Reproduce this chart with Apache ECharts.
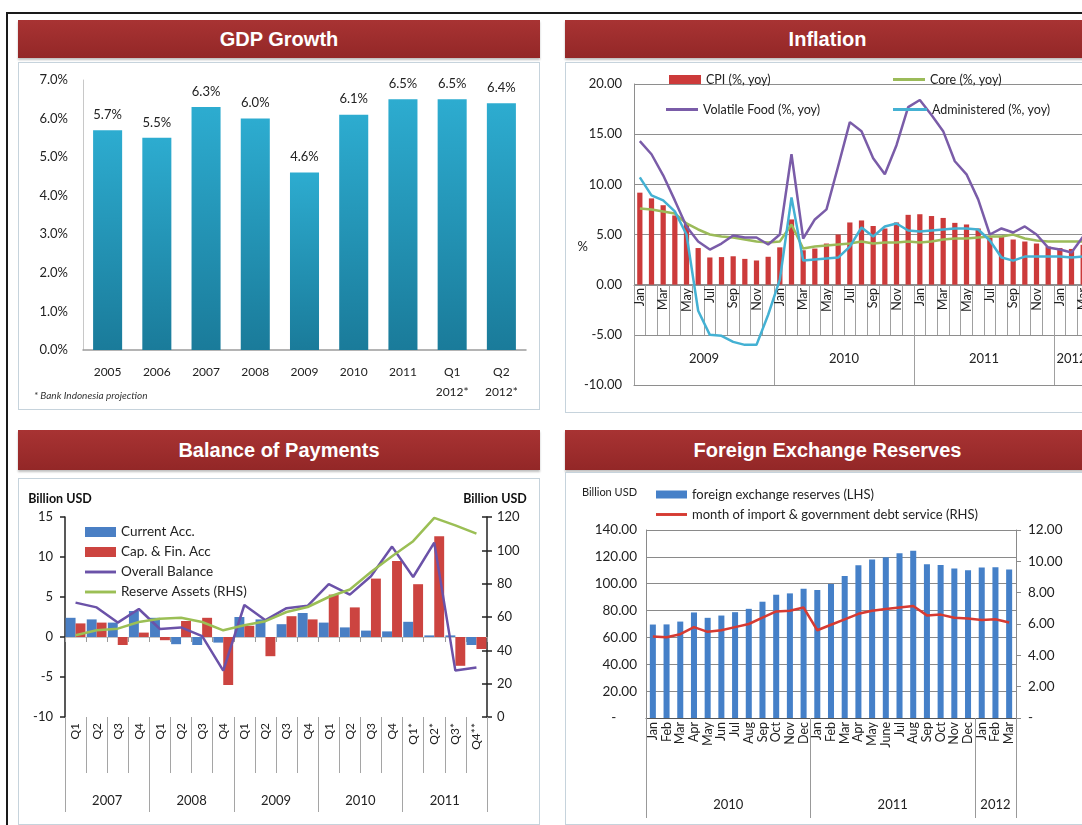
<!DOCTYPE html>
<html>
<head>
<meta charset="utf-8">
<title>Indonesia - Macro Indicators</title>
<script src="https://cdn.jsdelivr.net/npm/echarts@6.0.0/dist/echarts.min.js"></script>
<style>
    html, body { margin: 0; padding: 0; background: #fff; }
    body { width: 1082px; height: 825px; overflow: hidden; position: relative; font-family: "Liberation Sans", Arial, sans-serif; }
    .frame-top { position: absolute; left: 6px; top: 12px; width: 1100px; height: 2px; background: #1a1a1a; }
    .frame-left { position: absolute; left: 6px; top: 12px; width: 2px; height: 820px; background: #1a1a1a; }
    .head { position: absolute; color: #fff; font-weight: bold; font-size: 20px; text-align: center;
            background: linear-gradient(#a83333, #932727); box-shadow: 0 2px 2px rgba(0,0,0,.25); }
    .chart { position: absolute; border: 1px solid #c6d3dc; background: #fff; }
</style>
</head>
<body>
<div class="frame-top"></div>
<div class="frame-left"></div>

<div class="head" style="left:18px;top:20px;width:522px;height:38px;line-height:38px;">GDP Growth</div>
<div class="head" style="left:565px;top:20px;width:525px;height:38px;line-height:38px;">Inflation</div>
<div class="head" style="left:18px;top:430px;width:522px;height:40px;line-height:40px;">Balance of Payments</div>
<div class="head" style="left:565px;top:430px;width:525px;height:40px;line-height:40px;">Foreign Exchange Reserves</div>

<div id="echart1" class="chart" style="left:18px;top:62px;width:520px;height:346px;"></div>
<div id="echart2" class="chart" style="left:565px;top:62px;width:533px;height:349px;"></div>
<div id="echart3" class="chart" style="left:18px;top:478px;width:520px;height:345px;"></div>
<div id="echart4" class="chart" style="left:565px;top:472px;width:523px;height:351px;"></div>

<script>
// ---------- GDP growth (yearly, % yoy) ----------
var gdpCategories = ['2005', '2006', '2007', '2008', '2009', '2010', '2011', 'Q1\n2012*', 'Q2\n2012*'];
var gdpGrowth = [5.7, 5.5, 6.3, 6.0, 4.6, 6.1, 6.5, 6.5, 6.4];

// ---------- Inflation (monthly, Jan 2009 - Mar 2012) ----------
var monthAbbr = ['Jan', 'Feb', 'Mar', 'Apr', 'May', 'Jun', 'Jul', 'Aug', 'Sep', 'Oct', 'Nov', 'Dec'];
var inflYears = ['2009', '2010', '2011', '2012'];
var inflYearMonths = [12, 12, 12, 3];
var cpi = [9.17, 8.60, 7.92, 6.9, 6.04, 3.65, 2.71, 2.75, 2.83, 2.57, 2.41, 2.78,
           3.72, 6.5, 3.43, 3.6, 4.1, 5.0, 6.2, 6.4, 5.85, 5.6, 6.2, 6.96,
           7.02, 6.84, 6.65, 6.16, 6.0, 5.6, 4.7, 4.8, 4.5, 4.3, 4.1, 3.8,
           3.65, 3.56, 3.97];
var core = [7.6, 7.5, 7.3, 7.1, 6.1, 5.5, 5.0, 4.8, 4.7, 4.5, 4.3, 4.2,
            4.3, 6.0, 3.6, 3.8, 3.9, 4.0, 4.1, 4.3, 4.1, 4.2, 4.2, 4.3,
            4.2, 4.3, 4.5, 4.6, 4.6, 4.7, 4.8, 4.8, 5.0, 4.6, 4.4, 4.3,
            4.3, 4.3, 4.3];
var volatileFood = [14.3, 13.0, 10.9, 8.4, 5.8, 4.3, 3.5, 4.1, 4.9, 4.7, 4.7, 4.0,
                    5.0, 13.0, 4.6, 6.5, 7.5, 11.8, 16.2, 15.3, 12.6, 11.0, 13.9, 17.7,
                    18.4, 16.9, 15.3, 12.3, 11.0, 8.5, 5.0, 5.6, 5.2, 5.8, 5.0, 3.7,
                    3.5, 3.2, 4.8];
var administered = [10.7, 8.9, 8.4, 7.3, 5.0, -2.6, -5.0, -5.1, -5.7, -6.0, -6.0, -3.0,
                    0.5, 8.7, 2.4, 2.5, 2.6, 2.7, 3.8, 5.7, 4.8, 5.8, 6.1, 5.4,
                    5.3, 5.4, 5.5, 5.6, 5.6, 5.5, 4.4, 2.7, 2.4, 2.8, 2.8, 2.8,
                    2.8, 2.7, 2.8];

// ---------- Balance of payments (quarterly, billion USD) ----------
var bopQuarters = ['Q1', 'Q2', 'Q3', 'Q4', 'Q1', 'Q2', 'Q3', 'Q4', 'Q1', 'Q2', 'Q3', 'Q4',
                   'Q1', 'Q2', 'Q3', 'Q4', 'Q1*', 'Q2*', 'Q3*', 'Q4**'];
var bopYears = ['2007', '2008', '2009', '2010', '2011'];
var bopYearQuarters = [4, 4, 4, 4, 4];
var currentAcc = [2.4, 2.2, 1.8, 3.25, 2.4, -0.9, -1.0, -0.7, 2.5, 2.2, 1.6, 3.0,
                  1.8, 1.2, 0.8, 0.7, 1.9, 0.2, 0.2, -1.0];
var capFinAcc = [1.7, 1.8, -1.0, 0.55, -0.4, 2.0, 2.4, -6.0, 1.4, -2.4, 2.6, 2.2,
                 5.3, 3.7, 7.3, 9.5, 6.6, 12.6, -3.6, -1.5];
var overallBalance = [4.3, 3.7, 1.8, 3.5, 1.0, 1.2, 0.1, -4.2, 4.0, 2.1, 3.6, 3.9,
                      6.6, 5.3, 7.6, 11.3, 7.5, 11.8, -4.2, -3.8];
var reserveAssets = [49, 52, 53, 57, 59, 59.5, 57, 52, 55, 57.5, 63, 66,
                     72, 76.5, 87, 96.5, 105.5, 119.5, 115, 110];

// ---------- Foreign exchange reserves (monthly, Jan 2010 - Mar 2012) ----------
var fxMonths = ['Jan', 'Feb', 'Mar', 'Apr', 'May', 'Jun', 'Jul', 'Aug', 'Sep', 'Oct', 'Nov', 'Dec',
                'Jan', 'Feb', 'Mar', 'Apr', 'May', 'June', 'Jul', 'Aug', 'Sep', 'Oct', 'Nov', 'Dec',
                'Jan', 'Feb', 'Mar'];
var fxYears = ['2010', '2011', '2012'];
var fxYearMonths = [12, 12, 3];
var fxReserves = [69.6, 69.7, 71.8, 78.6, 74.6, 76.3, 78.8, 81.3, 86.6, 91.8, 92.8, 96.2,
                  95.3, 99.8, 105.7, 113.8, 118.1, 119.7, 122.7, 124.6, 114.5, 113.9, 111.3, 110.1,
                  112.0, 112.2, 110.5];
var importCover = [5.2, 5.15, 5.35, 5.8, 5.5, 5.6, 5.8, 6.0, 6.4, 6.8, 6.85, 7.05,
                   5.6, 5.95, 6.3, 6.65, 6.85, 6.95, 7.05, 7.15, 6.55, 6.6, 6.4, 6.35,
                   6.25, 6.3, 6.1];

var FONT = 'Lato, "Open Sans", sans-serif';
var TXT = '#222';
var LINE_ICON = 'path://M0,0H32V3H0Z';   // flat legend key for line series

// year row under a category axis: half-step points, label at the middle of each group
function groupAxis(labels, counts) {
    var total = 0;
    counts.forEach(function (c) { total += c; });
    var data = [], edges = [0], pos = 0;
    for (var k = 0; k <= total * 2; k++) data.push('');
    labels.forEach(function (lab, i) {
        data[pos * 2 + counts[i]] = lab;
        pos += counts[i];
        edges.push(pos * 2);
    });
    return { data: data, edges: edges };
}

echarts_1();
echarts_2();
echarts_3();
echarts_4();

function echarts_1() {
    // GDP Growth
    var myChart = echarts.init(document.getElementById('echart1'));
    var option = {
        animation: false,
        textStyle: { fontFamily: FONT },
        title: {
            text: '* Bank Indonesia projection', left: 10, bottom: 3,
            textStyle: { fontSize: 10, fontStyle: 'italic', fontWeight: 'normal', color: '#333', fontFamily: FONT }
        },
        grid: { left: 64, right: 13, top: 17, bottom: 59, outerBoundsMode: 'none' },
        xAxis: {
            type: 'category',
            data: gdpCategories,
            axisLine: { lineStyle: { color: '#9c9c9c', width: 1.5 } },
            axisTick: { show: false },
            axisLabel: { color: TXT, fontSize: 12, margin: 12, lineHeight: 20, interval: 0 }
        },
        yAxis: {
            type: 'value', min: 0, max: 7, interval: 1,
            axisLine: { show: true, lineStyle: { color: '#c8c8c8' } },
            axisTick: { show: false },
            splitLine: { show: false },
            axisLabel: { color: TXT, fontSize: 13, margin: 15, formatter: function (v) { return v.toFixed(1) + '%'; } }
        },
        series: [{
            type: 'bar',
            data: gdpGrowth,
            barWidth: '59%',
            itemStyle: {
                color: new echarts.graphic.LinearGradient(0, 0, 0, 1, [
                    { offset: 0, color: '#2dacd0' },
                    { offset: 1, color: '#1a7b9a' }
                ])
            },
            label: {
                show: true, position: 'top', distance: 9, color: TXT, fontSize: 13,
                formatter: function (p) { return p.value.toFixed(1) + '%'; }
            }
        }]
    };
    myChart.setOption(option);
    window.addEventListener("resize", function () {
        myChart.resize();
    });
}

function echarts_2() {
    // Inflation
    var myChart = echarts.init(document.getElementById('echart2'));
    var inflMonths = [];
    inflYearMonths.forEach(function (n) {
        for (var m = 0; m < n; m++) inflMonths.push(monthAbbr[m]);
    });
    var years = groupAxis(inflYears, inflYearMonths);
    var gridColor = '#8e8e8e';
    var legendText = { color: TXT, fontSize: 12.5, fontFamily: FONT };
    var option = {
        animation: false,
        textStyle: { fontFamily: FONT },
        legend: [
            { data: [{ name: 'CPI (%, yoy)', icon: 'rect' }], left: 98, top: 5, itemWidth: 32, itemHeight: 9, itemGap: 4, textStyle: legendText },
            { data: [{ name: 'Core (%, yoy)', icon: LINE_ICON }], left: 322, top: 5, itemWidth: 32, itemHeight: 9, textStyle: legendText },
            { data: [{ name: 'Volatile Food (%, yoy)', icon: LINE_ICON }], left: 95, top: 35, itemWidth: 32, itemHeight: 9, textStyle: legendText },
            { data: [{ name: 'Administered (%, yoy)', icon: LINE_ICON }], left: 322, top: 35, itemWidth: 34, itemHeight: 9, textStyle: legendText }
        ],
        grid: { left: 68, right: 10, top: 21, bottom: 27, outerBoundsMode: 'none' },
        xAxis: [{
            // month row, sitting on the zero line (100 px above the -10 floor)
            type: 'category',
            data: inflMonths,
            position: 'bottom',
            offset: -100,
            axisLine: { onZero: false, lineStyle: { color: gridColor } },
            axisTick: { show: true, interval: 0, length: 50, lineStyle: { color: '#a0a0a0' } },
            axisLabel: { interval: 1, rotate: 90, fontSize: 12.5, margin: 3, color: TXT }
        }, {
            type: 'category',
            data: years.data,
            boundaryGap: false,
            position: 'bottom',
            axisLine: { onZero: false, lineStyle: { color: gridColor } },
            axisTick: {
                show: true, inside: true, length: 50, lineStyle: { color: '#a0a0a0' },
                interval: function (i) { return years.edges.indexOf(i) >= 0; }
            },
            axisLabel: {
                inside: true, margin: 20, fontSize: 13, color: TXT,
                interval: function (i, v) { return v !== ''; }
            }
        }],
        yAxis: {
            type: 'value', min: -10, max: 20, interval: 5,
            name: '%', nameLocation: 'middle', nameRotate: 0, nameGap: 46, nameMoveOverlap: false,
            nameTextStyle: { fontSize: 13, color: TXT, verticalAlign: 'top', padding: [6, 0, 0, 0] },
            axisLine: { show: true, lineStyle: { color: gridColor } },
            axisTick: { show: false },
            splitLine: { lineStyle: { color: gridColor, width: 1.2 } },
            axisLabel: { color: TXT, fontSize: 13, margin: 12, formatter: function (v) { return v.toFixed(2); } }
        },
        series: [
            { name: 'CPI (%, yoy)', type: 'bar', data: cpi, barWidth: '45%', itemStyle: { color: '#cc3a3a' } },
            { name: 'Core (%, yoy)', type: 'line', data: core, symbol: 'none', lineStyle: { width: 2.5, color: '#9bbb59' }, itemStyle: { color: '#9bbb59' } },
            { name: 'Volatile Food (%, yoy)', type: 'line', data: volatileFood, symbol: 'none', lineStyle: { width: 2.5, color: '#7a5ca8' }, itemStyle: { color: '#7a5ca8' } },
            { name: 'Administered (%, yoy)', type: 'line', data: administered, symbol: 'none', lineStyle: { width: 2.5, color: '#44b1d3' }, itemStyle: { color: '#44b1d3' } }
        ]
    };
    myChart.setOption(option);
    window.addEventListener("resize", function () {
        myChart.resize();
    });
}

function echarts_3() {
    // Balance of Payments
    var myChart = echarts.init(document.getElementById('echart3'));
    var years = groupAxis(bopYears, bopYearQuarters);
    var axisDark = { color: '#222', width: 1.5 };
    var option = {
        animation: false,
        textStyle: { fontFamily: FONT },
        legend: {
            orient: 'vertical', left: 61, top: 41,
            itemWidth: 31, itemHeight: 10, itemGap: 6,
            textStyle: { color: TXT, fontSize: 13.5, fontFamily: FONT },
            data: [
                { name: 'Current Acc.', icon: 'rect' },
                { name: 'Cap. & Fin. Acc', icon: 'rect' },
                { name: 'Overall Balance', icon: LINE_ICON },
                { name: 'Reserve Assets (RHS)', icon: LINE_ICON }
            ]
        },
        grid: { left: 46, right: 52, top: 38, bottom: 107, outerBoundsMode: 'none' },
        xAxis: [{
            type: 'category',
            data: bopQuarters,
            position: 'bottom',
            axisLine: { show: false, onZero: false },
            axisTick: { show: true, interval: 0, length: 56, lineStyle: { color: '#a5a5a5' } },
            axisLabel: { interval: 0, rotate: 90, fontSize: 12, margin: 6, color: TXT }
        }, {
            type: 'category',
            data: years.data,
            boundaryGap: false,
            position: 'bottom',
            axisLine: { show: false, onZero: false },
            axisTick: {
                show: true, length: 95, lineStyle: { color: '#a5a5a5' },
                interval: function (i) { return years.edges.indexOf(i) >= 0; }
            },
            axisLabel: {
                margin: 77, fontSize: 13, color: TXT,
                interval: function (i, v) { return v !== ''; }
            }
        }, {
            // zero line with small category ticks (10 units x 8 px above the floor)
            type: 'category',
            data: bopQuarters,
            position: 'bottom',
            offset: -80,
            axisLine: { show: true, onZero: false, lineStyle: { color: '#c4c4c4' } },
            axisTick: { show: true, interval: 0, length: 5, lineStyle: { color: '#9a9a9a' } },
            axisLabel: { show: false }
        }],
        yAxis: [{
            type: 'value', min: -10, max: 15, interval: 5, position: 'left',
            name: 'Billion USD', nameLocation: 'end', nameGap: 12,
            nameTextStyle: { fontWeight: 'bold', fontSize: 12.5, color: '#111', align: 'center', padding: [0, 10, 0, 0] },
            axisLine: { show: true, lineStyle: axisDark },
            axisTick: { show: true, length: 5, lineStyle: axisDark },
            splitLine: { show: false },
            axisLabel: { color: TXT, fontSize: 13, margin: 12 }
        }, {
            type: 'value', min: 0, max: 120, interval: 20, position: 'right',
            name: 'Billion USD', nameLocation: 'end', nameGap: 12,
            nameTextStyle: { fontWeight: 'bold', fontSize: 12.5, color: '#111', align: 'center', padding: [0, 0, 0, 16] },
            axisLine: { show: true, lineStyle: axisDark },
            axisTick: { show: true, length: 5, lineStyle: axisDark },
            splitLine: { show: false },
            axisLabel: { color: TXT, fontSize: 13, margin: 10 }
        }, {
            type: 'value', min: 0, max: 120, interval: 20, position: 'right',
            axisLine: { show: false },
            axisTick: { show: true, inside: true, length: 5, lineStyle: axisDark },
            splitLine: { show: false },
            axisLabel: { show: false }
        }],
        series: [
            { name: 'Current Acc.', type: 'bar', data: currentAcc, barGap: '0%', barCategoryGap: '6%', itemStyle: { color: '#4a7fc4' } },
            { name: 'Cap. & Fin. Acc', type: 'bar', data: capFinAcc, barGap: '0%', barCategoryGap: '6%', itemStyle: { color: '#cc4440' } },
            { name: 'Overall Balance', type: 'line', data: overallBalance, symbol: 'none', lineStyle: { width: 2.5, color: '#6b52a8' }, itemStyle: { color: '#6b52a8' } },
            { name: 'Reserve Assets (RHS)', type: 'line', yAxisIndex: 1, data: reserveAssets, symbol: 'none', lineStyle: { width: 2.5, color: '#9bbf55' }, itemStyle: { color: '#9bbf55' } }
        ]
    };
    myChart.setOption(option);
    window.addEventListener("resize", function () {
        myChart.resize();
    });
}

function echarts_4() {
    // Foreign Exchange Reserves
    var myChart = echarts.init(document.getElementById('echart4'));
    var years = groupAxis(fxYears, fxYearMonths);
    var lineGrey = '#8a8a8a';
    var option = {
        animation: false,
        textStyle: { fontFamily: FONT },
        legend: {
            orient: 'vertical', left: 85, top: 10,
            itemWidth: 31, itemHeight: 8, itemGap: 7,
            textStyle: { color: TXT, fontSize: 13, fontFamily: FONT },
            data: [
                { name: 'foreign exchange reserves (LHS)', icon: 'rect' },
                { name: 'month of import & government debt service (RHS)', icon: LINE_ICON }
            ]
        },
        grid: { left: 80, right: 73, top: 57, bottom: 106, outerBoundsMode: 'none' },
        xAxis: [{
            type: 'category',
            data: fxMonths,
            position: 'bottom',
            axisLine: { show: true, onZero: false, lineStyle: { color: '#555' } },
            axisTick: { show: false },
            axisLabel: { interval: 0, rotate: 90, fontSize: 12.5, margin: 4, color: TXT }
        }, {
            type: 'category',
            data: years.data,
            boundaryGap: false,
            position: 'bottom',
            axisLine: { show: false, onZero: false },
            axisTick: {
                show: true, length: 100, lineStyle: { color: '#999' },
                interval: function (i) { return years.edges.indexOf(i) >= 0; }
            },
            axisLabel: {
                margin: 80, fontSize: 13, color: TXT,
                interval: function (i, v) { return v !== ''; }
            }
        }],
        yAxis: [{
            type: 'value', min: 0, max: 140, interval: 20,
            name: 'Billion USD', nameLocation: 'end', nameGap: 32,
            nameTextStyle: { fontSize: 11, color: TXT, align: 'right', padding: [0, 9, 0, 0] },
            axisLine: { show: true, lineStyle: { color: lineGrey } },
            axisTick: { show: false },
            splitLine: { lineStyle: { color: lineGrey, width: 1.2 } },
            axisLabel: {
                color: TXT, fontSize: 13.5, margin: 9,
                formatter: function (v) { return v === 0 ? '-      ' : v.toFixed(2); }
            }
        }, {
            type: 'value', min: 0, max: 12, interval: 2, position: 'right',
            axisLine: { show: true, lineStyle: { color: lineGrey } },
            axisTick: { show: true, length: 5, lineStyle: { color: lineGrey } },
            splitLine: { show: false },
            axisLabel: {
                color: TXT, fontSize: 13.5, margin: 12,
                formatter: function (v) { return v === 0 ? '-' : v.toFixed(2); }
            }
        }],
        series: [
            { name: 'foreign exchange reserves (LHS)', type: 'bar', data: fxReserves, barWidth: '44%', itemStyle: { color: '#4580c8' } },
            { name: 'month of import & government debt service (RHS)', type: 'line', yAxisIndex: 1, data: importCover, symbol: 'none', lineStyle: { width: 2.5, color: '#d63a32' }, itemStyle: { color: '#d63a32' } }
        ]
    };
    myChart.setOption(option);
    window.addEventListener("resize", function () {
        myChart.resize();
    });
}
</script>
</body>
</html>
